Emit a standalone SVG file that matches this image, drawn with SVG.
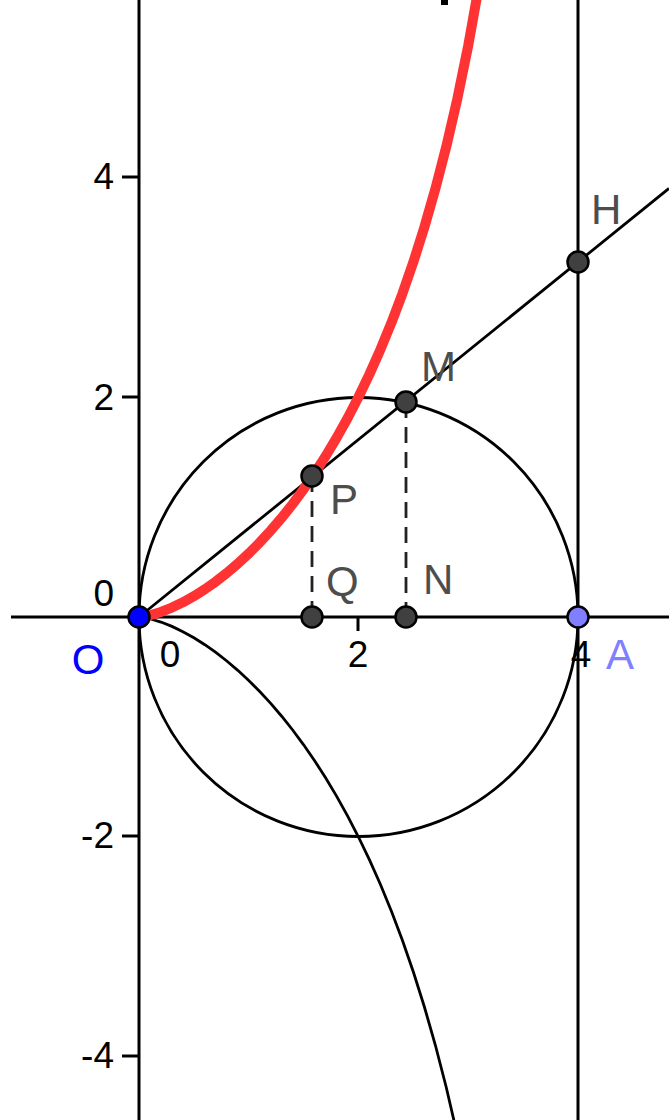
<svg xmlns="http://www.w3.org/2000/svg" width="669" height="1120" viewBox="0 0 669 1120">
<style>
.ln{fill:none;stroke:#000;stroke-width:2.8}
.ax{fill:none;stroke:#000;stroke-width:3}
.dash{fill:none;stroke:#222;stroke-width:2.8;stroke-dasharray:16 9}
.pt{fill:#404040;stroke:#000;stroke-width:2.5}
.tk{font-family:"Liberation Sans",Arial,sans-serif;font-size:37px;fill:#000}
.lb{font-family:"Liberation Sans",Arial,sans-serif;font-size:42px;fill:#4d4d4d}
</style>
<rect width="669" height="1120" fill="#fff"/>
<rect x="441" y="0" width="7" height="5" fill="#000"/>
<g id="axes">
<line class="ax" x1="11" y1="617" x2="669" y2="617"/>
<line class="ax" x1="139" y1="0" x2="139" y2="1120"/>
<line class="ax" x1="578" y1="0" x2="578" y2="1120"/>
<line class="ax" x1="122" y1="177" x2="139" y2="177"/>
<line class="ax" x1="122" y1="397" x2="139" y2="397"/>
<line class="ax" x1="122" y1="836" x2="139" y2="836"/>
<line class="ax" x1="122" y1="1056" x2="139" y2="1056"/>
<line class="ax" x1="358" y1="617" x2="358" y2="631"/>
<text class="tk" x="114" y="189" text-anchor="end">4</text>
<text class="tk" x="114" y="410" text-anchor="end">2</text>
<text class="tk" x="114" y="606" text-anchor="end">0</text>
<text class="tk" x="114" y="848" text-anchor="end">-2</text>
<text class="tk" x="114" y="1068" text-anchor="end">-4</text>
<text class="tk" x="170" y="667" text-anchor="middle">0</text>
<text class="tk" x="358" y="667" text-anchor="middle">2</text>
<text class="tk" x="581" y="667" text-anchor="middle">4</text>
</g>
<g id="connectors">
<circle class="ln" cx="358.5" cy="617" r="219.5"/>
<line class="ln" x1="139" y1="617" x2="669" y2="188.4"/>
<line class="dash" x1="312" y1="476" x2="312" y2="617"/>
<line class="dash" x1="406" y1="402" x2="406" y2="617"/>
<polyline class="ln" points="139,617 149.98,618.76 160.95,622.05 171.93,626.39 182.9,631.66 193.88,637.79 204.85,644.73 215.83,652.46 226.8,661 237.78,670.34 248.75,680.51 259.73,691.53 270.7,703.42 281.68,716.23 292.65,730 303.63,744.81 314.6,760.7 325.58,777.77 336.55,796.1 347.53,815.8 358.5,837 369.48,859.86 380.45,884.54 391.43,911.28 402.4,940.33 413.38,972.03 424.35,1006.75 435.33,1045.02 446.3,1087.48 457.28,1134.96"/>
<polyline fill="none" stroke="#ff3333" stroke-width="10" stroke-linejoin="round" points="139,617 149.98,615.24 160.95,611.95 171.93,607.61 182.9,602.34 193.88,596.21 204.85,589.27 215.83,581.54 226.8,573 237.78,563.66 248.75,553.49 259.73,542.47 270.7,530.58 281.68,517.77 292.65,504 303.63,489.19 314.6,473.3 325.58,456.23 336.55,437.9 347.53,418.2 358.5,397 369.48,374.14 380.45,349.46 391.43,322.72 402.4,293.67 413.38,261.97 424.35,227.25 435.33,188.98 446.3,146.52 457.28,99.04 468.25,45.42 479.23,-15.86"/>
</g>
<g id="O"><circle cx="139" cy="617" r="10.5" fill="#0000ff" stroke="#000" stroke-width="2.5"/><text class="lb" x="88" y="674" text-anchor="middle" style="fill:#0000ff">O</text></g>
<g id="A"><circle cx="578" cy="617" r="10.5" fill="#7f7fff" stroke="#000" stroke-width="2.5"/><text class="lb" x="606" y="669" style="fill:#7f7fff">A</text></g>
<g id="Q"><circle class="pt" cx="312" cy="617" r="10.5"/><text class="lb" x="326" y="596">Q</text></g>
<g id="N"><circle class="pt" cx="406" cy="617" r="10.5"/><text class="lb" x="423" y="594">N</text></g>
<g id="P"><circle class="pt" cx="312" cy="476" r="10.5"/><text class="lb" x="330" y="514">P</text></g>
<g id="M"><circle class="pt" cx="406" cy="402" r="10.5"/><text class="lb" x="421" y="381">M</text></g>
<g id="H"><circle class="pt" cx="578" cy="262" r="10.5"/><text class="lb" x="591" y="224">H</text></g>
</svg>
